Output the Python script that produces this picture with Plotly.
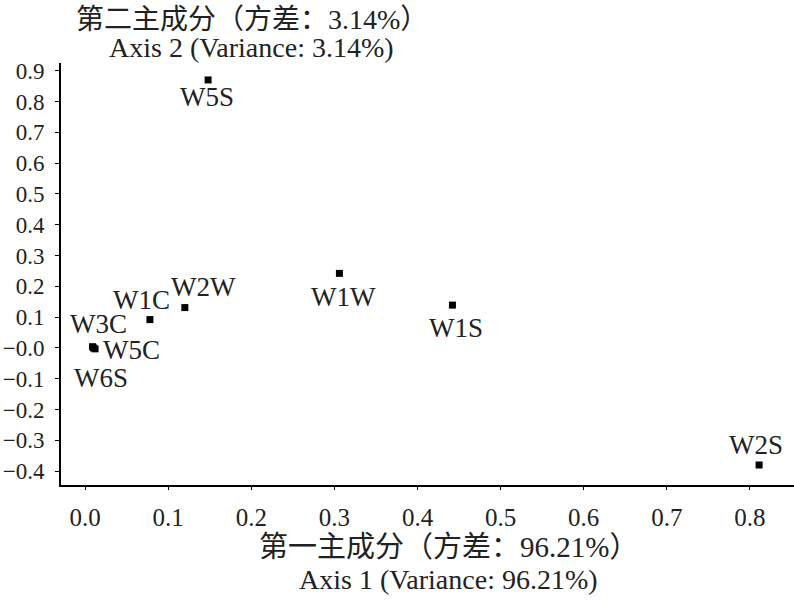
import plotly.graph_objects as go

# PCA scores
samples = ["W5S", "W1W", "W1S", "W2W", "W1C", "W3C", "W5C", "W6S", "W2S"]
axis1 = [0.148, 0.306, 0.442, 0.120, 0.078, 0.009, 0.012, 0.010, 0.811]
axis2 = [0.870, 0.242, 0.139, 0.131, 0.092, 0.004, -0.003, 0.000, -0.380]

# label offsets (px) relative to each point
label_dx = [-1, 4, 4, 19, -8, 6, 36, 8, -3]
label_dy = [-17, -24, -23, 21, 20, 23, -1, -30, 20]

y_ticks = [0.9, 0.8, 0.7, 0.6, 0.5, 0.4, 0.3, 0.2, 0.1, 0.0, -0.1, -0.2, -0.3, -0.4]
y_ticktext = ["0.9", "0.8", "0.7", "0.6", "0.5", "0.4", "0.3", "0.2", "0.1",
              "\u22120.0", "\u22120.1", "\u22120.2", "\u22120.3", "\u22120.4"]
x_ticks = [0.0, 0.1, 0.2, 0.3, 0.4, 0.5, 0.6, 0.7, 0.8]

serif = "Liberation Serif, Times New Roman, serif"
cjk = "Liberation Serif, Noto Sans CJK SC"

fig = go.Figure()
fig.add_trace(go.Scatter(
    x=axis1, y=axis2, mode="markers",
    marker=dict(symbol="square", size=7, color="black"),
    hoverinfo="text", text=samples,
))

for s, x, y, dx, dy in zip(samples, axis1, axis2, label_dx, label_dy):
    fig.add_annotation(x=x, y=y, text=s, showarrow=False,
                       xshift=dx, yshift=dy,
                       font=dict(family=serif, size=27, color="#222"))

# axis titles (two lines each, Chinese + English)
titles = [
    ("第二主成分（方差：3.14%）", 0.26, 1, 44, 28),
    ("Axis 2 (Variance: 3.14%)", 0.26, 1, 16, 28),
    ("第一主成分（方差：96.21%）", 0.529, 0, -62, 29),
    ("Axis 1 (Variance: 96.21%)", 0.529, 0, -94, 28),
]
for txt, px_, py_, shift, fs in titles:
    fig.add_annotation(x=px_, y=py_, xref="paper", yref="paper", text=txt,
                       showarrow=False, yshift=shift, yanchor="middle",
                       xanchor="center",
                       font=dict(family=cjk, size=fs, color="#222"))

fig.update_xaxes(
    range=[-0.029, 0.853], tickvals=x_ticks, ticktext=[f"{v:.1f}" for v in x_ticks],
    showline=True, linecolor="black", linewidth=2, showgrid=False, zeroline=False,
    ticks="outside", ticklen=3, tickcolor="black", automargin=False,
    ticklabelstandoff=6,
    tickfont=dict(family=serif, size=25, color="#222"),
)
fig.update_yaxes(
    range=[-0.445, 0.925], tickvals=y_ticks, ticktext=y_ticktext,
    showline=True, linecolor="black", linewidth=2, showgrid=False, zeroline=False,
    ticks="outside", ticklen=4, tickcolor="black", automargin=False,
    ticklabelstandoff=6,
    tickfont=dict(family=serif, size=23, color="#222"),
)

fig.update_layout(
    width=794, height=602,
    margin=dict(l=61, r=0, t=63, b=117),
    plot_bgcolor="white", paper_bgcolor="white",
    showlegend=False,
)

# drop the default 8px body margin so the figure fills the window
fig.write_html("out.html", config={"displayModeBar": False},
               post_script="document.body.style.margin='0';")
